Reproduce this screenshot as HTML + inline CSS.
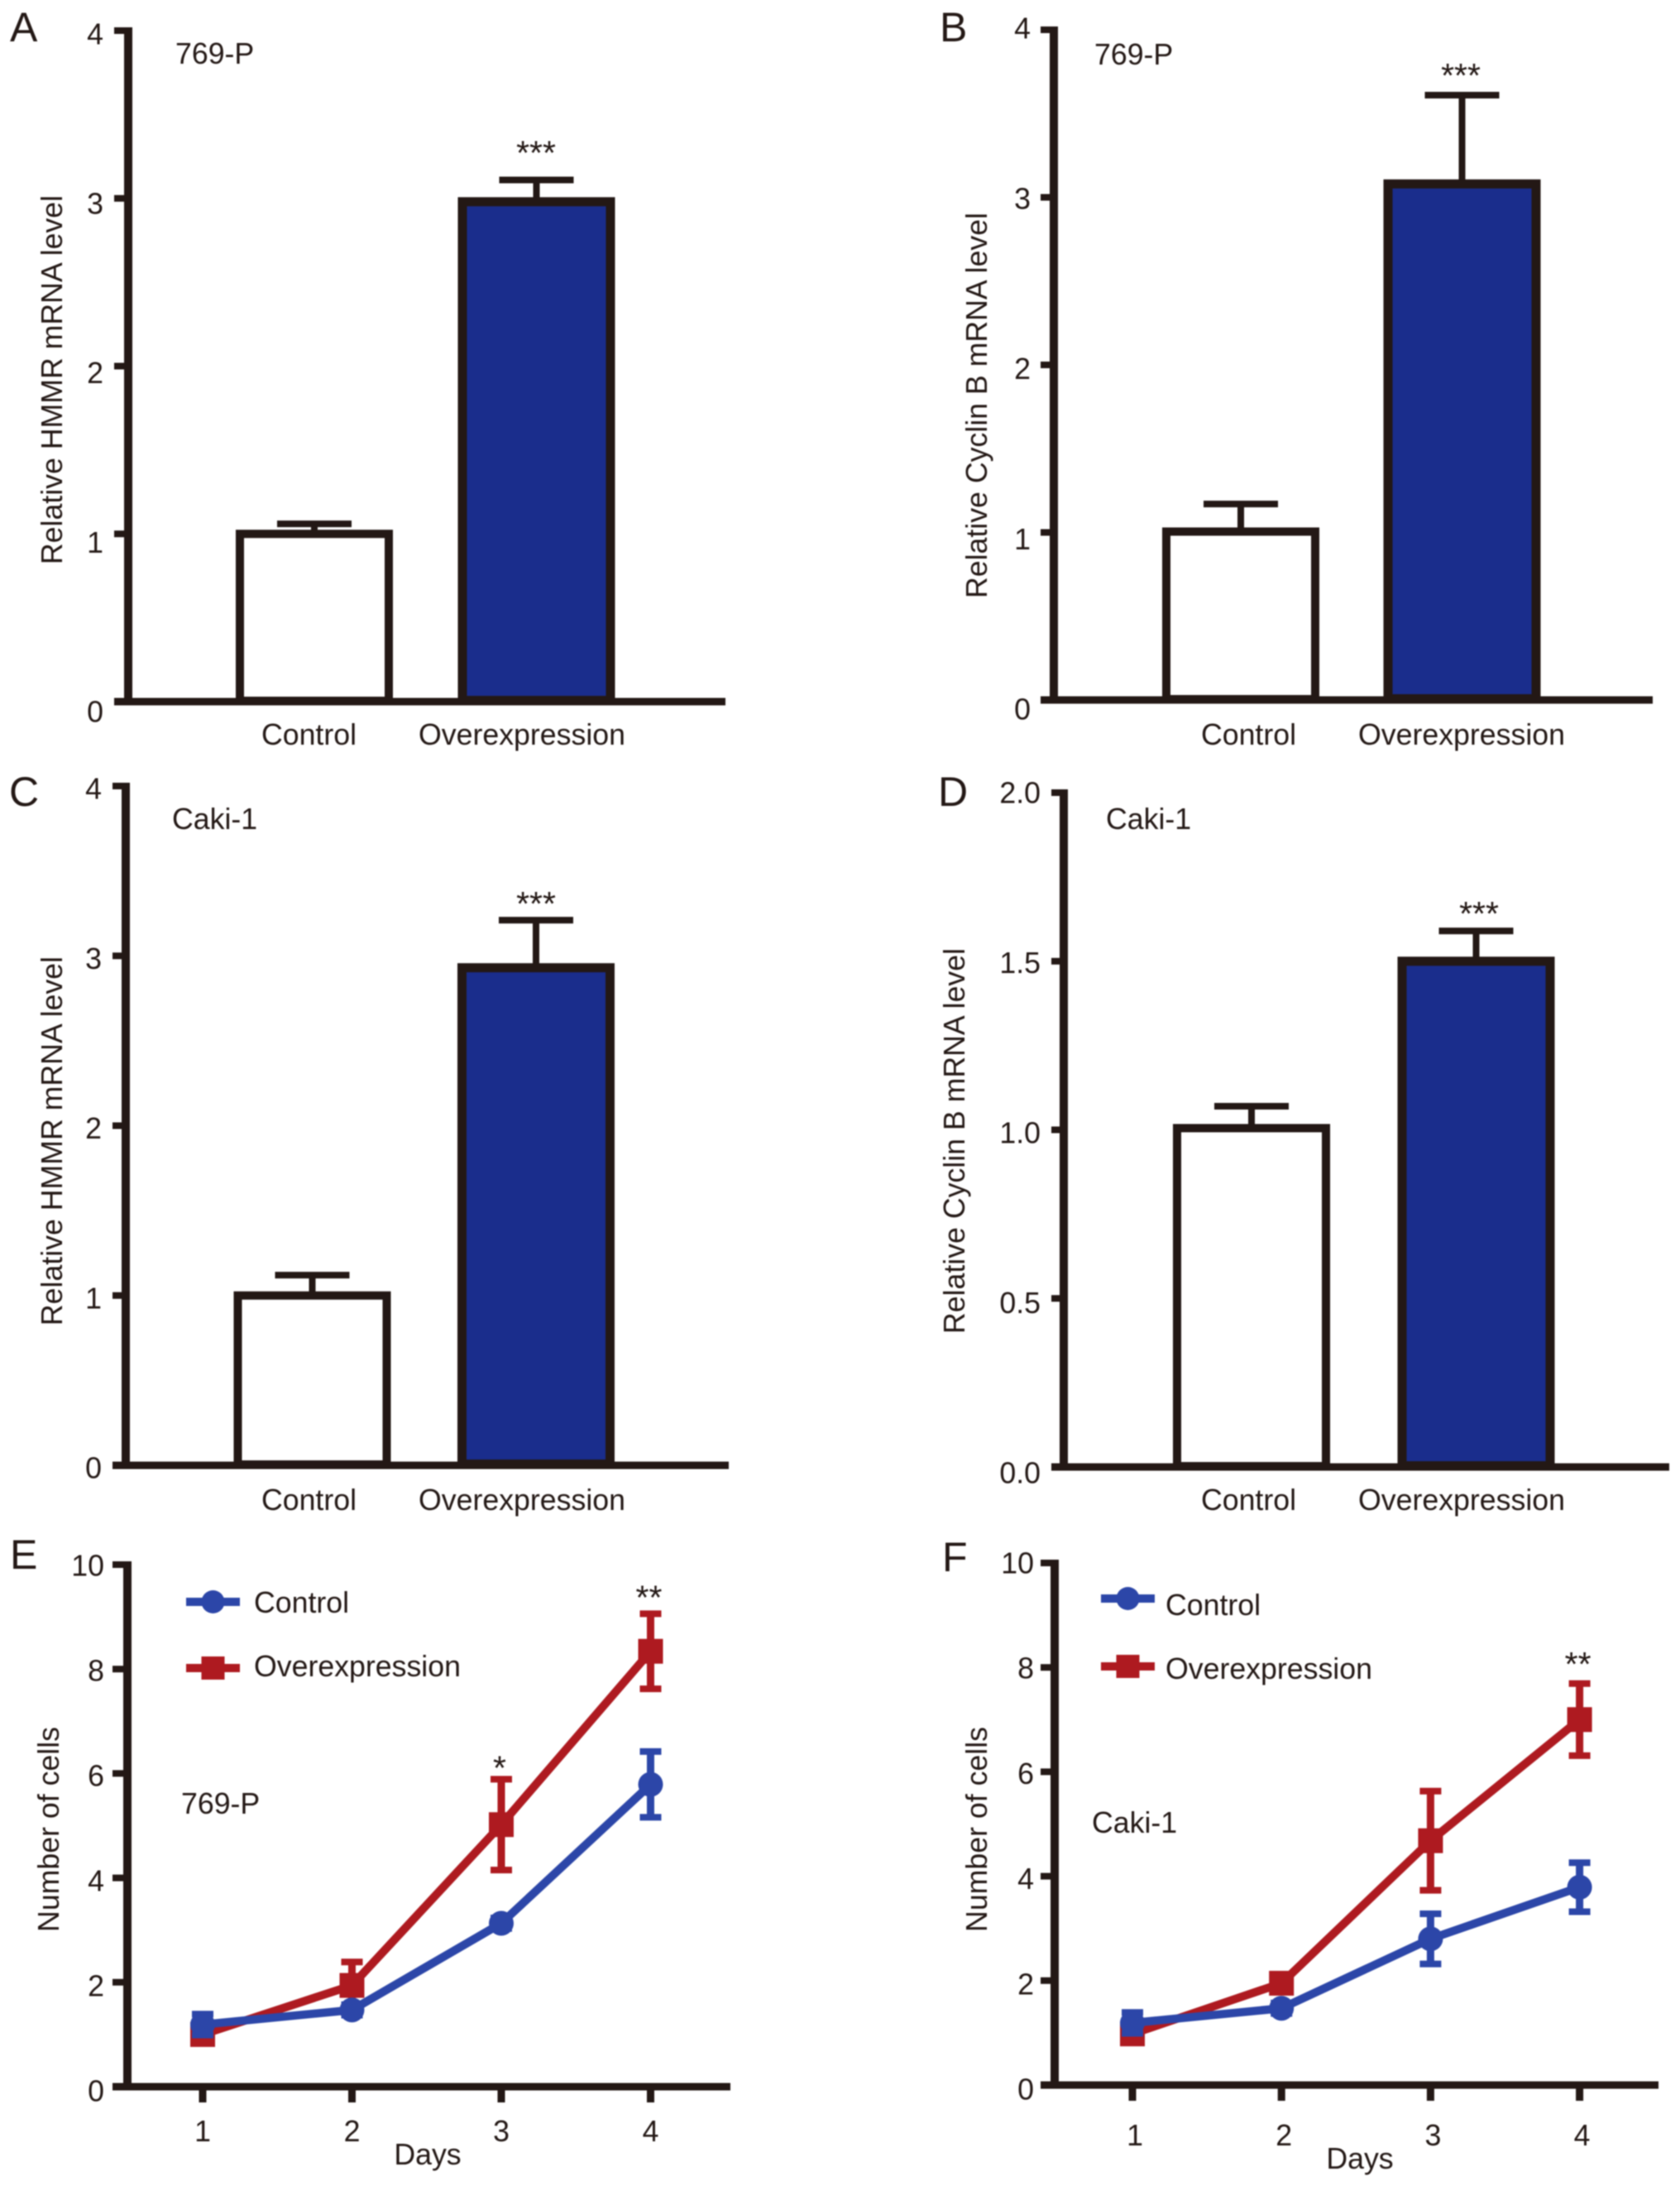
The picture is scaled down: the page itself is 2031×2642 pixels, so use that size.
<!DOCTYPE html>
<html lang="en">
<head>
<meta charset="utf-8">
<title>HMMR overexpression figure</title>
<style>
html,body{margin:0;padding:0;background:#fff;}
svg{display:block;filter:blur(0.7px);}
text{font-family:"Liberation Sans",sans-serif;fill:#231815;font-size:35.7px;}
.panel-letter{font-size:50px;}
</style>
</head>
<body>
<svg id="fig" width="2031" height="2642" viewBox="0 0 2031 2642" xmlns="http://www.w3.org/2000/svg">
  <rect width="2031" height="2642" fill="#fff"/>
  <g id="A">
    <text class="panel-letter" x="12" y="50">A</text>
    <text x="212" y="77">769-P</text>
    <text text-anchor="middle" transform="translate(75 459) rotate(-90)">Relative HMMR mRNA level</text>
  </g>
  <g id="B">
    <text class="panel-letter" x="1136" y="50">B</text>
    <text x="1323" y="78">769-P</text>
    <text text-anchor="middle" transform="translate(1193 490) rotate(-90)">Relative Cyclin B mRNA level</text>
  </g>
  <g id="C">
    <text class="panel-letter" x="11" y="974">C</text>
    <text x="208" y="1002">Caki-1</text>
    <text text-anchor="middle" transform="translate(75 1379) rotate(-90)">Relative HMMR mRNA level</text>
  </g>
  <g id="D">
    <text class="panel-letter" x="1134" y="974">D</text>
    <text x="1337" y="1002">Caki-1</text>
    <text text-anchor="middle" transform="translate(1166 1379) rotate(-90)">Relative Cyclin B mRNA level</text>
  </g>
  <g id="E">
    <text class="panel-letter" x="12" y="1896">E</text>
    <text x="219" y="2192">769-P</text>
    <text text-anchor="middle" transform="translate(71 2211) rotate(-90)">Number of cells</text>
    <text text-anchor="middle" x="517" y="2616">Days</text>
    <text x="307" y="1949">Control</text>
    <text x="307" y="2026">Overexpression</text>
  </g>
  <g id="F">
    <text class="panel-letter" x="1139" y="1899">F</text>
    <text x="1320" y="2215">Caki-1</text>
    <text text-anchor="middle" transform="translate(1193 2211) rotate(-90)">Number of cells</text>
    <text text-anchor="middle" x="1644" y="2621">Days</text>
    <text x="1409" y="1952">Control</text>
    <text x="1409" y="2029">Overexpression</text>
  </g>
</svg>
<script>
// ---- chart data ----
const barCategories = ['Control', 'Overexpression'];
const panelAMeans = [1.0, 2.98];
const panelAUppers = [1.06, 3.11];
const panelBMeans = [1.005, 3.08];
const panelBUppers = [1.17, 3.61];
const panelCMeans = [1.0, 2.93];
const panelCUppers = [1.12, 3.21];
const panelDMeans = [1.005, 1.5];
const panelDUppers = [1.07, 1.59];
const barSignificance = ['', '***'];
const intTicks = ['0', '1', '2', '3', '4'];
const decimalTicks = ['0.0', '0.5', '1.0', '1.5', '2.0'];
const cellTicks = ['0', '2', '4', '6', '8', '10'];
const days = ['1', '2', '3', '4'];
const panelEControl = [1.19, 1.47, 3.13, 5.79];
const panelEControlErr = [0.2, 0.1, 0.1, 0.63];
const panelEOver = [1.0, 1.94, 5.02, 8.34];
const panelEOverErr = [0.1, 0.45, 0.87, 0.72];
const panelESignificance = ['', '', '*', '**'];
const panelFControl = [1.19, 1.47, 2.8, 3.79];
const panelFControlErr = [0.2, 0.1, 0.48, 0.47];
const panelFOver = [0.98, 1.95, 4.68, 7.0];
const panelFOverErr = [0.1, 0.15, 0.95, 0.69];
const panelFSignificance = ['', '', '', '**'];

// ---- drawing ----
const INK = '#231815', BAR_BLUE = '#1a2d8c', BLUE = '#2c46a8', RED = '#ae1a20';
const NS = 'http://www.w3.org/2000/svg';
function mk(parent, tag, attrs, txt) {
  const el = document.createElementNS(NS, tag);
  for (const k in attrs) el.setAttribute(k, attrs[k]);
  if (txt !== undefined) el.textContent = txt;
  parent.appendChild(el);
  return el;
}
function line(parent, x1, y1, x2, y2, color, w) {
  return mk(parent, 'line', {x1: x1, y1: y1, x2: x2, y2: y2, stroke: color, 'stroke-width': w});
}
function drawAxes(g, L, ticks) {
  const vmax = parseFloat(ticks[ticks.length - 1]);
  const y = v => L.y0 - (v / vmax) * (L.y0 - L.yTop);
  const yAxis = line(g, L.axisX, L.yTop - 4, L.axisX, L.y0 + 4, INK, 10);
  
  
  const xAxis = line(g, L.xStart, L.y0, L.xEnd, L.y0, INK, 9);
  
  
  ticks.forEach(t => {
    const v = parseFloat(t);
    const tick = line(g, L.xStart, y(v), L.axisX, y(v), INK, 8);
    
    
    const off = L.labelOff0 + (L.labelOffTop - L.labelOff0) * v / vmax;
    const lab = mk(g, 'text', {x: L.labelRight, y: y(v) + off + 12.5, 'text-anchor': 'end'}, t);
    
    
  });
  return y;
}
function drawBarPanel(id, L, ticks, means, uppers, stars) {
  const g = document.getElementById(id);
  const y = drawAxes(g, L, ticks);
  barCategories.forEach((cat, i) => {
    const cx = L.barCenters[i], sw = L.barStroke[i], w = L.barWidth - sw;
    const top = y(means[i]);
    const stem = line(g, cx, y(uppers[i]), cx, top, INK, 8);
    
    
    const cap = line(g, cx - L.capHalf, y(uppers[i]), cx + L.capHalf, y(uppers[i]), INK, 8);
    
    
    const bar = mk(g, 'rect', {x: cx - w / 2, y: top, width: w, height: L.y0 + 4 - sw / 2 - top,
      fill: i ? BAR_BLUE : '#fff', stroke: INK, 'stroke-width': sw});
    
    
    const lab = mk(g, 'text', {x: L.catCenters[i], y: L.catBaseline, 'text-anchor': 'middle'}, cat);
    
    
    if (stars[i]) {
      const s = mk(g, 'text', {x: L.starX, y: y(uppers[i]) - L.starGap, 'text-anchor': 'middle', style: 'font-size:41px'}, stars[i]);
      
      
    }
  });
}
function drawSeries(g, L, x, y, values, errs, color, shape) {
  const pts = values.map((v, i) => x(i) + ',' + y(v)).join(' ');
  const path = mk(g, 'polyline', {points: pts, fill: 'none', stroke: color, 'stroke-width': 10, 'stroke-linejoin': 'round'});
  
  
  values.forEach((v, i) => {
    const hi = y(v + errs[i]), lo = y(v - errs[i]), cx = x(i);
    const stem = line(g, cx, hi, cx, lo, color, 9);
    
    
    const c1 = line(g, cx - 13, hi, cx + 13, hi, color, 8);
    
    
    const c2 = line(g, cx - 13, lo, cx + 13, lo, color, 8);
    
    
    const m = shape === 'circle'
      ? mk(g, 'circle', {cx: cx, cy: y(v), r: 15, fill: color})
      : mk(g, 'rect', {x: cx - 15, y: y(v) - 15, width: 30, height: 30, fill: color});
    
    
  });
}
function drawLegendKey(g, x1, x2, yy, color, shape) {
  const l = line(g, x1, yy, x2, yy, color, 10);
  
  
  const cx = (x1 + x2) / 2;
  const m = shape === 'circle'
    ? mk(g, 'circle', {cx: cx, cy: yy, r: 14, fill: color})
    : mk(g, 'rect', {x: cx - 14, y: yy - 14, width: 28, height: 28, fill: color});
  
  
}
function drawLinePanel(id, L, ctrl, ctrlErr, over, overErr, stars) {
  const g = document.getElementById(id);
  const y = drawAxes(g, L, cellTicks);
  const x = i => L.dayX0 + i * L.dayStep;
  days.forEach((d, i) => {
    const t = line(g, x(i), L.y0, x(i), L.y0 + 19, INK, 9);
    
    
    const lab = mk(g, 'text', {x: x(i) + L.dayLabelDx, y: L.dayBaseline, 'text-anchor': 'middle'}, d);
    
    
    if (stars[i]) {
      const s = mk(g, 'text', {x: x(i) - 2, y: y(over[i] + overErr[i]) - L.starGap[i], 'text-anchor': 'middle', style: 'font-size:41px'}, stars[i]);
      
      
    }
  });
  drawSeries(g, L, x, y, over, overErr, RED, 'square');
  drawSeries(g, L, x, y, ctrl, ctrlErr, BLUE, 'circle');
  drawLegendKey(g, L.legX1, L.legX2, L.legY1, BLUE, 'circle');
  drawLegendKey(g, L.legX1, L.legX2, L.legY2, RED, 'square');
}

drawBarPanel('A', {axisX:155, yTop:37, y0:848, xStart:138, xEnd:877, labelRight:125, labelOff0:12, labelOffTop:4,
  barCenters:[380,648.5], barWidth:190, barStroke:[10,11], capHalf:45, catCenters:[373.5,631], catBaseline:900, starX:648, starGap:19},
  intTicks, panelAMeans, panelAUppers, barSignificance);
drawBarPanel('B', {axisX:1274, yTop:36, y0:846, xStart:1258, xEnd:1998, labelRight:1246, labelOff0:11, labelOffTop:-2,
  barCenters:[1500,1767.5], barWidth:190, barStroke:[10,11], capHalf:45, catCenters:[1509.5,1767], catBaseline:900, starX:1766, starGap:10},
  intTicks, panelBMeans, panelBUppers, barSignificance);
drawBarPanel('C', {axisX:152, yTop:950, y0:1771, xStart:136, xEnd:881, labelRight:123, labelOff0:3, labelOffTop:3,
  barCenters:[377.5,648], barWidth:190, barStroke:[10,11], capHalf:45, catCenters:[373.5,631], catBaseline:1825, starX:648, starGap:6},
  intTicks, panelCMeans, panelCUppers, barSignificance);
drawBarPanel('D', {axisX:1286, yTop:958, y0:1773, xStart:1271, xEnd:2018, labelRight:1258, labelOff0:7, labelOffTop:0,
  barCenters:[1513,1784.5], barWidth:190, barStroke:[10,11], capHalf:45, catCenters:[1509.5,1767], catBaseline:1825, starX:1788, starGap:7},
  decimalTicks, panelDMeans, panelDUppers, barSignificance);
drawLinePanel('E', {axisX:154, yTop:1891, y0:2522, xStart:136, xEnd:883, labelRight:126, labelOff0:5, labelOffTop:1,
  dayX0:245, dayStep:180.5, dayLabelDx:0, dayBaseline:2588, starGap:[0,0,0,6], legX1:225, legX2:290, legY1:1936, legY2:2016},
  panelEControl, panelEControlErr, panelEOver, panelEOverErr, panelESignificance);
drawLinePanel('F', {axisX:1275, yTop:1889, y0:2520, xStart:1258, xEnd:2005, labelRight:1250, labelOff0:5, labelOffTop:0,
  dayX0:1369, dayStep:180.2, dayLabelDx:3, dayBaseline:2593, starGap:[0,0,0,10], legX1:1331, legX2:1396, legY1:1932, legY2:2014},
  panelFControl, panelFControlErr, panelFOver, panelFOverErr, panelFSignificance);
</script>
</body>
</html>
